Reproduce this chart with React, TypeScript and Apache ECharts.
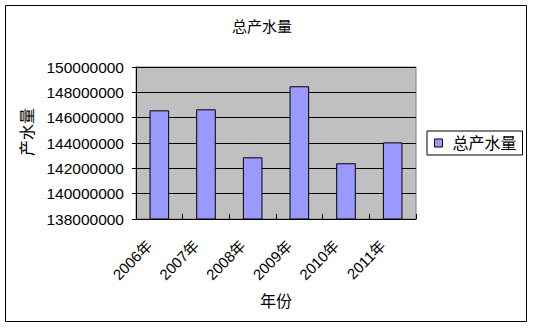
import React, { useEffect, useRef } from "react";
import * as echarts from "echarts";

const categories = ["2006年", "2007年", "2008年", "2009年", "2010年", "2011年"];
const values = [146580000, 146660000, 142870000, 148480000, 142400000, 144050000];
const seriesName = "总产水量";
const titleText = "总产水量";
const yName = "产水量";
const xName = "年份";

const FONT = "'Liberation Sans', 'Noto Sans CJK SC', sans-serif";

export default function App() {
  const ref = useRef<HTMLDivElement>(null);
  useEffect(() => {
    if (!ref.current) return;
    const chart = echarts.init(ref.current, undefined, { renderer: "svg" });
    chart.setOption({
      animation: false,
      backgroundColor: "#ffffff",
      textStyle: { fontFamily: FONT },
      title: {
        text: titleText,
        left: 262,
        top: 19,
        padding: 0,
        textAlign: "center",
        textStyle: { fontSize: 15, fontWeight: "normal", color: "#000", fontFamily: FONT },
      },
      graphic: [
        {
          type: "rect",
          z: 100,
          shape: { x: 5.5, y: 5.5, width: 521, height: 316 },
          style: { stroke: "#000", lineWidth: 1, fill: null },
        },
      ],
      legend: {
        left: 427,
        top: 131,
        itemWidth: 8,
        itemHeight: 8,
        icon: "rect",
        borderColor: "#000",
        borderWidth: 1,
        padding: [4, 6, 4, 7],
        itemStyle: { borderColor: "#000", borderWidth: 1 },
        textStyle: { fontSize: 16, color: "#000", fontFamily: FONT, padding: [0, 0, 0, 5] },
      },
      grid: {
        left: 136,
        right: 118,
        top: 67,
        bottom: 110,
        show: true,
        backgroundColor: "#c0c0c0",
        borderColor: "#808080",
        borderWidth: 1,
      },
      xAxis: {
        type: "category",
        data: categories,
        name: xName,
        nameLocation: "middle",
        nameGap: 74,
        nameTextStyle: { fontSize: 16, color: "#000", fontFamily: FONT },
        axisLine: { lineStyle: { color: "#000", width: 1 } },
        axisTick: { show: true, inside: true, length: 5, lineStyle: { color: "#000" } },
        axisLabel: {
          rotate: 45,
          fontSize: 15,
          color: "#000",
          margin: 14,
          padding: [0, 14, 0, 0],
          fontFamily: FONT,
        },
      },
      yAxis: {
        type: "value",
        min: 138000000,
        max: 150000000,
        interval: 2000000,
        name: yName,
        nameLocation: "middle",
        nameGap: 84,
        nameRotate: 90,
        nameTextStyle: { fontSize: 16, color: "#000", fontFamily: FONT, padding: [0, 0, 0, 22] },
        axisLine: { show: true, lineStyle: { color: "#000", width: 1 } },
        axisTick: { show: true, length: 4, lineStyle: { color: "#000" } },
        splitLine: { show: true, lineStyle: { color: "#000", width: 1 } },
        axisLabel: {
          fontSize: 15.5,
          color: "#000",
          margin: 12,
          fontFamily: FONT,
          formatter: (v: number) => String(v),
        },
      },
      series: [
        {
          name: seriesName,
          type: "bar",
          data: values,
          barCategoryGap: "58%",
          itemStyle: { color: "#9999ff", borderColor: "#000", borderWidth: 1 },
        },
      ],
    });
    return () => chart.dispose();
  }, []);
  return (
    <div style={{ position: "fixed", left: 0, top: 0, width: 534, height: 329 }}>
      <div ref={ref} style={{ width: 534, height: 329 }} />
    </div>
  );
}
